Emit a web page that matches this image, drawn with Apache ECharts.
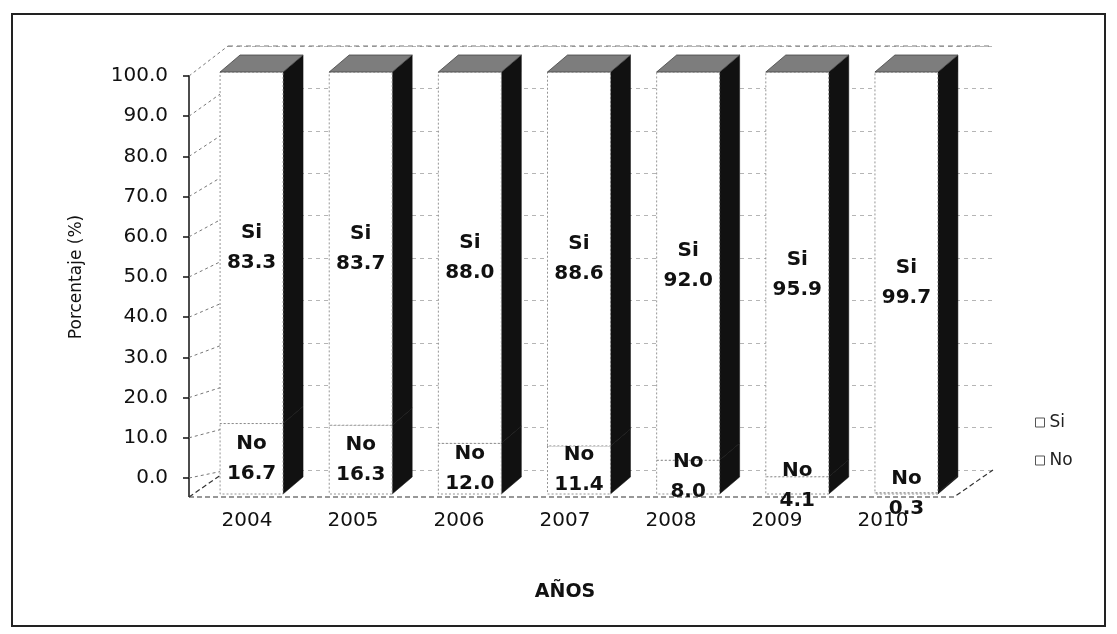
<!DOCTYPE html>
<html>
<head>
<meta charset="utf-8">
<script src="https://cdn.jsdelivr.net/npm/echarts@6/dist/echarts.min.js"></script>
<style>
  html, body { margin: 0; padding: 0; background: #fff; }
  #chart { width: 1117px; height: 634px; }
</style>
</head>
<body>
<div id="chart"></div>
<script>
// Encuesta: porcentaje de respuestas "Si" / "No" por año
const years = ['2004', '2005', '2006', '2007', '2008', '2009', '2010'];
const siValues = [83.3, 83.7, 88.0, 88.6, 92.0, 95.9, 99.7];
const noValues = [16.7, 16.3, 12.0, 11.4, 8.0, 4.1, 0.3];
const yMin = 0, yMax = 100, yStep = 10;

const FONT = 'DejaVu Sans';

// layout: axis frame, bar frame (front faces) and back wall
const GRID_AXIS = { left: 194, top: 76, width: 742, height: 402 };
const GRID_BARS = { left: 197, top: 72, width: 764, height: 422 };
const GRID_WALL = { left: 228, top: 46, width: 765, height: 424 };
const Y_OFFSET = 5;
const DEPTH_X = 20, DEPTH_Y = -17;   // bar depth (oblique)
const BAR_RATIO = 0.577;

const chart = echarts.init(document.getElementById('chart'));

// stacked segments: No from 0, Si on top of No
const noData = years.map((y, i) => [i, 0, noValues[i]]);
const siData = years.map((y, i) => [i, noValues[i], noValues[i] + siValues[i]]);

function makeRender(name, isTop) {
  return function (params, api) {
    const i = api.value(0);
    const p0 = api.coord([i, api.value(1)]);
    const p1 = api.coord([i, api.value(2)]);
    const band = api.size([1, 0])[0];
    const w = band * BAR_RATIO;
    const xl = p0[0] - w / 2, xr = p0[0] + w / 2;
    const y0 = p0[1], y1 = p1[1];
    const val = api.value(2) - api.value(1);
    const children = [
      { // side face
        type: 'polygon',
        shape: { points: [[xr, y0], [xr, y1], [xr + DEPTH_X, y1 + DEPTH_Y], [xr + DEPTH_X, y0 + DEPTH_Y]] },
        style: { fill: '#111', stroke: '#111', lineWidth: 0.5 }
      },
      { // front face
        type: 'rect',
        shape: { x: xl, y: y1, width: w, height: y0 - y1 },
        style: { fill: '#fff', stroke: '#7a7a7a', lineWidth: 0.8, lineDash: [2, 2] }
      },
      { // value label
        type: 'text',
        style: {
          x: (xl + xr) / 2, y: (y0 + y1) / 2,
          text: name + '\n' + val.toFixed(1),
          align: 'center', verticalAlign: 'middle',
          fontFamily: FONT, fontWeight: 'bold', fontSize: 20, lineHeight: 30,
          fill: '#111'
        },
        z2: 10
      }
    ];
    if (isTop) {
      children.push({ // top face
        type: 'polygon',
        shape: { points: [[xl, y1], [xl + DEPTH_X, y1 + DEPTH_Y], [xr + DEPTH_X, y1 + DEPTH_Y], [xr, y1]] },
        style: { fill: '#7d7d7d', stroke: '#444', lineWidth: 0.8 }
      });
    }
    return { type: 'group', children: children };
  };
}

const option = {
  backgroundColor: '#fff',
  animation: false,
  textStyle: { fontFamily: FONT },
  legend: {
    orient: 'vertical',
    left: 1030, top: 409,
    itemWidth: 9, itemHeight: 9, itemGap: 21,
    icon: 'rect',
    textStyle: { fontFamily: FONT, fontSize: 17, color: '#222' },
    data: [
      { name: 'Si', itemStyle: { color: '#fff', borderColor: '#555', borderWidth: 1 } },
      { name: 'No', itemStyle: { color: '#fff', borderColor: '#555', borderWidth: 1 } }
    ]
  },
  grid: [
    Object.assign({ containLabel: false }, GRID_AXIS),
    Object.assign({ containLabel: false }, GRID_BARS),
    Object.assign({ containLabel: false }, GRID_WALL)
  ],
  xAxis: [
    {
      type: 'category', gridIndex: 0, data: years,
      axisLine: { show: false }, axisTick: { show: false },
      axisLabel: { margin: 33, fontFamily: FONT, fontSize: 20, color: '#111' },
      name: 'AÑOS', nameLocation: 'middle', nameGap: 105,
      nameTextStyle: { fontFamily: FONT, fontSize: 19, fontWeight: 'bold', color: '#111' }
    },
    { type: 'category', gridIndex: 1, data: years, show: false },
    { type: 'category', gridIndex: 2, data: years, show: false }
  ],
  yAxis: [
    {
      type: 'value', gridIndex: 0, min: yMin, max: yMax, interval: yStep,
      offset: Y_OFFSET,
      axisLine: { show: true, lineStyle: { color: '#111', width: 1.5 } },
      axisTick: { show: true, length: 6, lineStyle: { color: '#111', width: 1.5 } },
      axisLabel: {
        margin: 21, fontFamily: FONT, fontSize: 20, color: '#111',
        formatter: v => v.toFixed(1)
      },
      splitLine: { show: false },
      name: 'Porcentaje (%)', nameLocation: 'middle', nameRotate: 90, nameGap: 104,
      nameTextStyle: { fontFamily: FONT, fontSize: 17, color: '#111' }
    },
    { type: 'value', gridIndex: 1, min: yMin, max: yMax, show: false },
    {
      type: 'value', gridIndex: 2, min: yMin, max: yMax, interval: yStep,
      axisLine: { show: false }, axisTick: { show: false }, axisLabel: { show: false },
      splitLine: { show: true, lineStyle: { color: '#b5b5b5', type: [4, 4], width: 1 } }
    }
  ],
  series: [
    {
      name: 'No', type: 'custom', xAxisIndex: 1, yAxisIndex: 1,
      itemStyle: { color: '#fff', borderColor: '#555' },
      renderItem: makeRender('No', false), data: noData, clip: false, z: 5
    },
    {
      name: 'Si', type: 'custom', xAxisIndex: 1, yAxisIndex: 1,
      itemStyle: { color: '#fff', borderColor: '#555' },
      renderItem: makeRender('Si', true), data: siData, clip: false, z: 5
    }
  ]
};

chart.setOption(option);

// wall / floor outline and chart frame
const axisX = GRID_AXIS.left - Y_OFFSET;
const wallL = GRID_WALL.left, wallR = GRID_WALL.left + GRID_WALL.width;
const wallDx = wallL - axisX;
const floorFrontY = chart.convertToPixel({ yAxisIndex: 1 }, 0) + 3;
const wallBottomY = chart.convertToPixel({ yAxisIndex: 2 }, 0);
const axisBottomY = chart.convertToPixel({ yAxisIndex: 0 }, 0);
const lineStyle = { stroke: '#333', lineWidth: 1.2, lineDash: [5, 3] };

const deco = [
  { type: 'rect', shape: { x: 12, y: 14, width: 1093, height: 612 },
    style: { fill: 'none', stroke: '#222', lineWidth: 2 }, z: 0 },
  { type: 'line', shape: { x1: axisX, y1: axisBottomY, x2: axisX, y2: floorFrontY },
    style: { stroke: '#111', lineWidth: 1.5 }, z: 1 },
  { type: 'polyline',
    shape: { points: [[axisX, floorFrontY], [wallR - wallDx, floorFrontY], [wallR, wallBottomY]] },
    style: Object.assign({ fill: 'none' }, lineStyle), z: 1 },
  { type: 'line', shape: { x1: axisX, y1: floorFrontY, x2: wallL, y2: wallBottomY },
    style: lineStyle, z: 1 }
];
// left wall: lines from axis ticks back to the wall
for (let v = yMin; v <= yMax; v += yStep) {
  const ya = chart.convertToPixel({ yAxisIndex: 0 }, v);
  const yw = chart.convertToPixel({ yAxisIndex: 2 }, v);
  deco.push({ type: 'line', shape: { x1: axisX, y1: ya, x2: wallL, y2: yw },
    style: { stroke: '#777', lineWidth: 1, lineDash: [3, 3] }, z: 1 });
}
// back wall top edge
const wallTopY = chart.convertToPixel({ yAxisIndex: 2 }, yMax);
deco.push({ type: 'line', shape: { x1: wallL, y1: wallTopY, x2: wallR, y2: wallTopY },
  style: { stroke: '#777', lineWidth: 1, lineDash: [5, 4] }, z: 1 });

chart.setOption({ graphic: { elements: deco } });
</script>
</body>
</html>
